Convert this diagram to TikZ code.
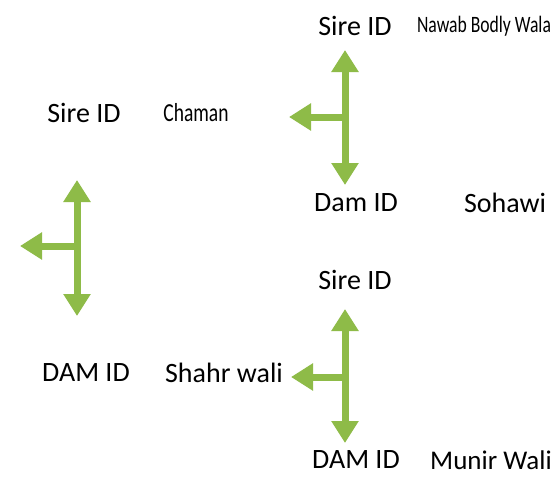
\documentclass[tikz,border=0pt]{standalone}
\usepackage{fontspec}
\setmainfont{Carlito}
\newfontfamily\narrowfont[FakeStretch=0.75]{Carlito}
\usepackage{tikz}
\usetikzlibrary{arrows.meta}
\usetikzlibrary{positioning}

\definecolor{arrowgreen}{RGB}{142,187,72}

\begin{document}
\begin{tikzpicture}[
    x=1pt, y=-1pt,
    every node/.style={inner sep=0pt, anchor=center},
    idlabel/.style={font=\fontsize{28}{30}\selectfont},
    namelabel/.style={font=\narrowfont\fontsize{26}{28}\selectfont},
    twoway/.style={draw=arrowgreen, line width=7pt, {Triangle[width=26pt,length=22pt]}-{Triangle[width=26pt,length=22pt]}},
    oneway/.style={draw=arrowgreen, line width=7pt, -{Triangle[width=26pt,length=22pt]}}
]
    \useasboundingbox (0,0) rectangle (560,479);

    % Top pair
    \node[idlabel] (sire1) at (355,26) {Sire ID};
    \node[namelabel, font=\narrowfont\fontsize{23.5}{25}\selectfont] (name1) at (484,26) {Nawab Bodly Wala};
    \node[idlabel] (dam1) at (356,203) {Dam ID};
    \node[idlabel] (name2) at (505,203) {Sohawi};

    % Left pair
    \node[idlabel] (sire2) at (84,113) {Sire ID};
    \node[namelabel] (name3) at (196,113) {Chaman};
    \node[idlabel] (dam2) at (86,373) {DAM ID};
    \node[idlabel] (name4) at (224,373) {Shahr wali};

    % Bottom pair
    \node[idlabel] (sire3) at (355,280) {Sire ID};
    \node[idlabel] (dam3) at (356,460) {DAM ID};
    \node[idlabel, font=\fontsize{27}{29}\selectfont] (name5) at (491,460) {Munir Wali};

    % Arrow ends
    \coordinate (up1) at (345,50);
    \coordinate (down1) at (345,185);
    \coordinate (join1) at (345,117);
    \coordinate (left1) at (289,117);

    \coordinate (up2) at (77,180);
    \coordinate (down2) at (77,316);
    \coordinate (join2) at (77,246);
    \coordinate (left2) at (20,246);

    \coordinate (up3) at (345,309);
    \coordinate (down3) at (345,443);
    \coordinate (join3) at (345,377);
    \coordinate (left3) at (291,377);

    % Arrows
    \draw[oneway] (join1) -- (left1);
    \draw[twoway] (up1) -- (down1);
    \draw[oneway] (join2) -- (left2);
    \draw[twoway] (up2) -- (down2);
    \draw[oneway] (join3) -- (left3);
    \draw[twoway] (up3) -- (down3);

\end{tikzpicture}
\end{document}
